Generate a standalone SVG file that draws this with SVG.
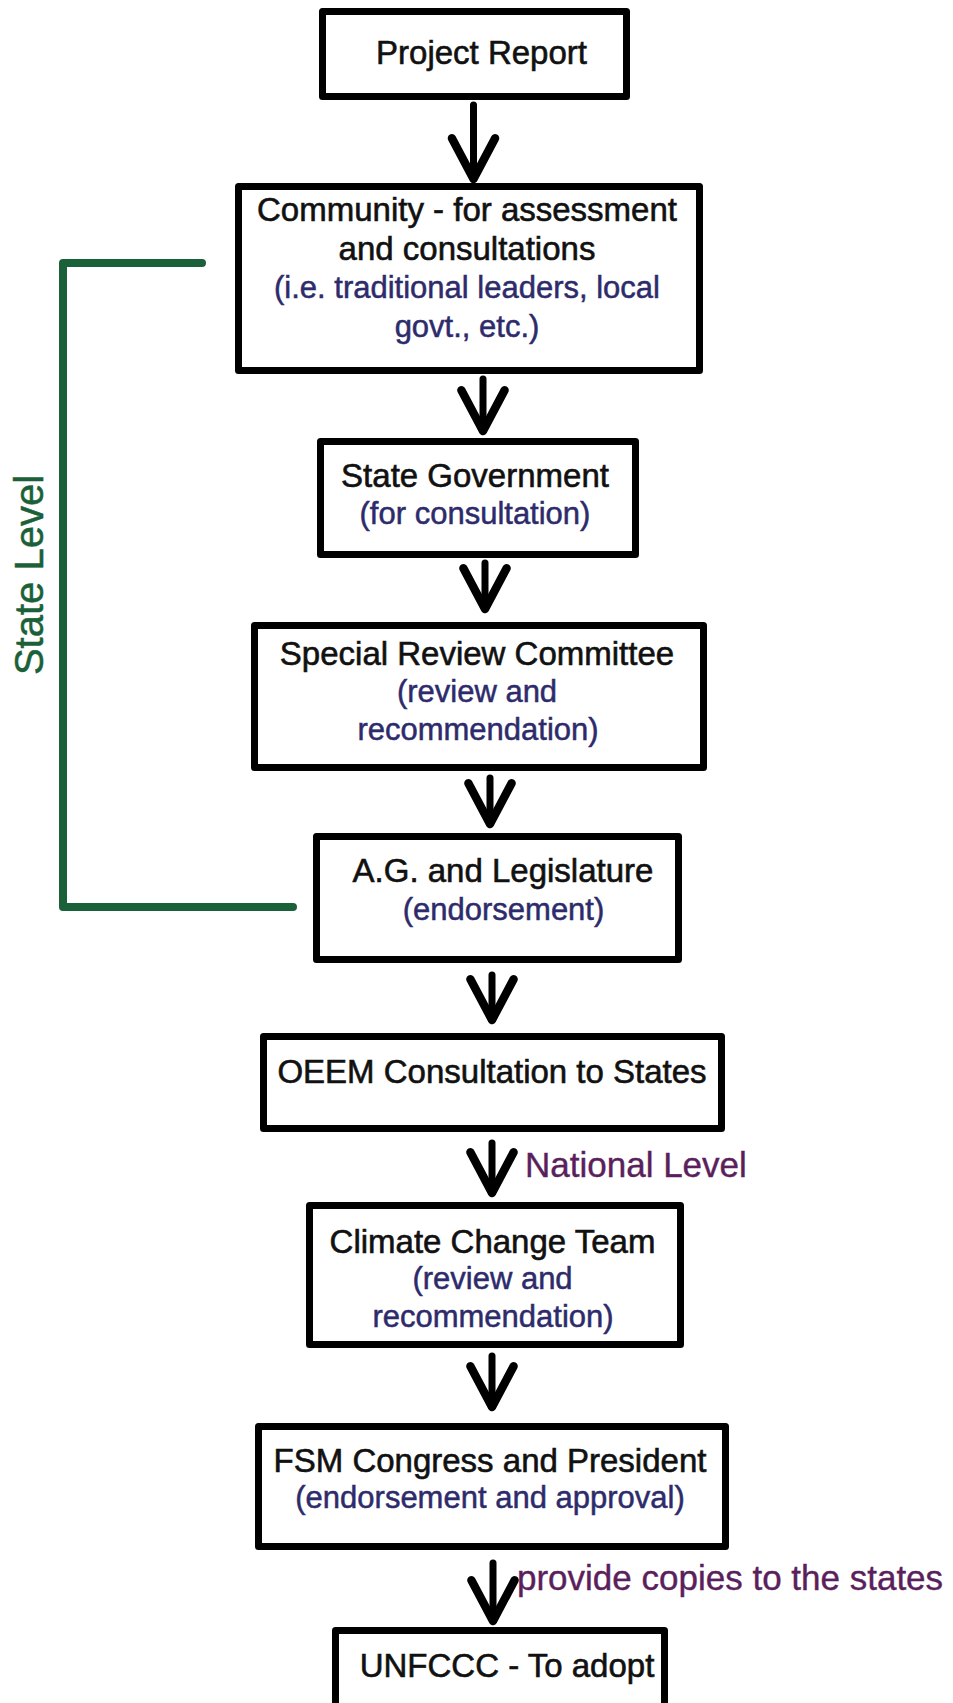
<svg xmlns="http://www.w3.org/2000/svg" width="953" height="1703" viewBox="0 0 953 1703">
<style>
.box{fill:#fff;stroke:#000;stroke-width:7;stroke-linejoin:round}
.t{font-family:"Liberation Sans",Arial,sans-serif;font-size:33px;fill:#111;stroke:#111;stroke-width:0.6;text-anchor:middle}
.s{font-family:"Liberation Sans",Arial,sans-serif;font-size:31px;fill:#2d2b6b;stroke:#2d2b6b;stroke-width:0.5;text-anchor:middle}
.lbl{font-family:"Liberation Sans",Arial,sans-serif;font-size:35px;fill:#5a1f5c;stroke:#5a1f5c;stroke-width:0.4}
.con{fill:none;stroke:#000;stroke-width:7;stroke-linecap:round;marker-end:url(#ah)}
</style>
<defs>
<marker id="ah" markerUnits="userSpaceOnUse" orient="auto" markerWidth="60" markerHeight="60" viewBox="-40 -25 50 50" refX="0" refY="0" overflow="visible">
<path d="M-34,-18 L0,0 L-34,18" fill="none" stroke="#000" stroke-width="7" stroke-linecap="round" stroke-linejoin="round"/>
</marker>
</defs>
<rect width="953" height="1703" fill="#fff"/>

<g id="connectors">
<path class="con" d="M473.5,105 L473.5,179"/>
<path class="con" d="M483,379 L483,431"/>
<path class="con" d="M485,563 L485,609"/>
<path class="con" d="M490,778 L490,824"/>
<path class="con" d="M492,975 L492,1020"/>
<path class="con" d="M492,1143 L492,1193"/>
<path class="con" d="M492,1356 L492,1407"/>
<path class="con" d="M493,1563 L493,1621"/>
</g>

<g id="state-level">
<polyline points="202,263 63,263 63,907 293,907" fill="none" stroke="#1a6038" stroke-width="8" stroke-linecap="round" stroke-linejoin="round"/>
<text x="43" y="575" transform="rotate(-90 43 575)" font-family="'Liberation Sans',Arial,sans-serif" font-size="40" fill="#1a6038" stroke="#1a6038" stroke-width="0.5" text-anchor="middle">State Level</text>
</g>

<g id="project-report">
<rect class="box" x="322.5" y="11.5" width="304" height="85"/>
<text class="t" x="481.5" y="64">Project Report</text>
</g>

<g id="community">
<rect class="box" x="238.5" y="186.5" width="461" height="184"/>
<text class="t" x="467" y="221">Community - for assessment</text>
<text class="t" x="467" y="260">and consultations</text>
<text class="s" x="467" y="298">(i.e. traditional leaders, local</text>
<text class="s" x="467" y="337">govt., etc.)</text>
</g>

<g id="state-government">
<rect class="box" x="320.5" y="441.5" width="315" height="113"/>
<text class="t" x="475" y="487">State Government</text>
<text class="s" x="475" y="524">(for consultation)</text>
</g>

<g id="special-review">
<rect class="box" x="254.5" y="625.5" width="449" height="142"/>
<text class="t" x="477" y="665">Special Review Committee</text>
<text class="s" x="477" y="702">(review and</text>
<text class="s" x="478" y="740">recommendation)</text>
</g>

<g id="ag-legislature">
<rect class="box" x="316.5" y="836.5" width="362" height="123"/>
<text class="t" x="503" y="882">A.G. and Legislature</text>
<text class="s" x="503.5" y="920">(endorsement)</text>
</g>

<g id="oeem">
<rect class="box" x="263.5" y="1036.5" width="458" height="92"/>
<text class="t" x="492" y="1083">OEEM Consultation to States</text>
</g>

<text class="lbl" x="525" y="1177">National Level</text>

<g id="climate-team">
<rect class="box" x="309.5" y="1205.5" width="371" height="139"/>
<text class="t" x="492.5" y="1253">Climate Change Team</text>
<text class="s" x="492.5" y="1289">(review and</text>
<text class="s" x="493" y="1327">recommendation)</text>
</g>

<g id="fsm-congress">
<rect class="box" x="258.5" y="1426.5" width="467" height="120"/>
<text class="t" x="490" y="1472">FSM Congress and President</text>
<text class="s" x="490" y="1508">(endorsement and approval)</text>
</g>

<text class="lbl" x="517" y="1590">provide copies to the states</text>

<g id="unfccc">
<rect class="box" x="335.5" y="1630.5" width="329" height="110"/>
<text class="t" x="507" y="1677">UNFCCC - To adopt</text>
</g>
</svg>
